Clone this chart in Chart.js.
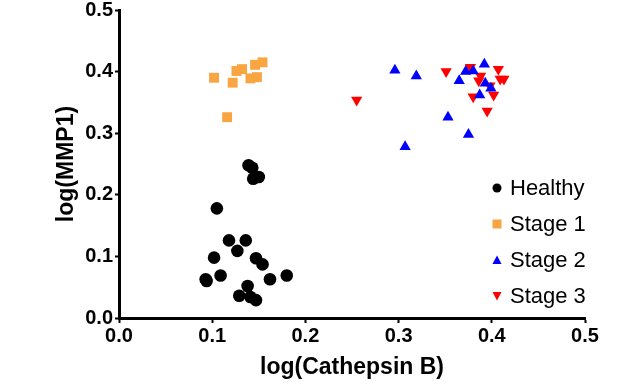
<!DOCTYPE html>
<html><head><meta charset="utf-8">
<script src="https://cdn.jsdelivr.net/npm/chart.js@4/dist/chart.umd.min.js"></script>
<style>html,body{margin:0;padding:0;background:#fff}</style>
</head><body>
<canvas id="c" width="640" height="384"></canvas>
<script>
const seriesNames = ['Healthy', 'Stage 1', 'Stage 2', 'Stage 3'];
const xTicks = [0.0, 0.1, 0.2, 0.3, 0.4, 0.5];
const yTicks = [0.0, 0.1, 0.2, 0.3, 0.4, 0.5];

const healthyX = [0.139, 0.143, 0.150, 0.144, 0.105, 0.118, 0.136, 0.127, 0.102, 0.147, 0.154, 0.093, 0.094, 0.109, 0.162, 0.180, 0.138, 0.129, 0.141, 0.147];
const healthyY = [0.248, 0.244, 0.229, 0.226, 0.178, 0.126, 0.126, 0.109, 0.098, 0.097, 0.087, 0.063, 0.060, 0.069, 0.063, 0.069, 0.052, 0.036, 0.034, 0.029];

const stage1X = [0.102, 0.122, 0.126, 0.132, 0.146, 0.154, 0.141, 0.148, 0.116];
const stage1Y = [0.390, 0.382, 0.401, 0.404, 0.411, 0.415, 0.389, 0.391, 0.326];

const stage2X = [0.296, 0.319, 0.372, 0.380, 0.392, 0.365, 0.393, 0.399, 0.387, 0.353, 0.375, 0.307];
const stage2Y = [0.402, 0.393, 0.400, 0.401, 0.412, 0.385, 0.381, 0.373, 0.362, 0.326, 0.298, 0.278];

const stage3X = [0.255, 0.351, 0.377, 0.388, 0.386, 0.407, 0.409, 0.413, 0.398, 0.402, 0.380, 0.395];
const stage3Y = [0.354, 0.400, 0.407, 0.393, 0.385, 0.404, 0.388, 0.388, 0.377, 0.362, 0.359, 0.336];

const colors = ['#000000', '#F9A541', '#0000FF', '#FF0000'];
const styles = ['circle', 'rect', 'triangle', 'triangle'];
const rotations = [0, 0, 0, 180];
const radii = [6.3, 7, 6.5, 6.5];

function pts(xs, ys) { return xs.map((x, i) => ({x: x, y: ys[i]})); }
const allX = [healthyX, stage1X, stage2X, stage3X];
const allY = [healthyY, stage1Y, stage2Y, stage3Y];

const datasets = seriesNames.map((name, i) => ({
  label: name,
  data: pts(allX[i], allY[i]),
  backgroundColor: colors[i],
  borderColor: colors[i],
  borderWidth: 0,
  pointStyle: styles[i],
  pointRotation: rotations[i],
  pointRadius: radii[i],
  pointHoverRadius: radii[i]
}));

const legendPlugin = {
  id: 'insideLegend',
  afterDraw(chart) {
    const ctx = chart.ctx;
    ctx.save();
    ctx.font = '22px "Liberation Sans", Arial, sans-serif';
    ctx.textBaseline = 'middle';
    ctx.textAlign = 'left';
    const x0 = 497, tx = 510, y0 = 188, dy = 36;
    chart.data.datasets.forEach((ds, i) => {
      const y = y0 + i * dy;
      ctx.fillStyle = ds.backgroundColor;
      ctx.beginPath();
      if (ds.pointStyle === 'circle') {
        ctx.arc(x0, y, 4.5, 0, Math.PI * 2);
      } else if (ds.pointStyle === 'rect') {
        ctx.rect(x0 - 4.5, y - 4.5, 9, 9);
      } else if (ds.pointRotation === 180) {
        ctx.moveTo(x0 - 4.5, y - 4); ctx.lineTo(x0 + 4.5, y - 4); ctx.lineTo(x0, y + 4.5);
      } else {
        ctx.moveTo(x0 - 4.5, y + 4); ctx.lineTo(x0 + 4.5, y + 4); ctx.lineTo(x0, y - 4.5);
      }
      ctx.closePath();
      ctx.fill();
      ctx.fillStyle = '#000';
      ctx.fillText(ds.label, tx, y + 1);
    });
    ctx.restore();
  }
};

const tickFont = {family: '"Liberation Sans", Arial, sans-serif', size: 20, weight: 'bold'};
const titleFont = {family: '"Liberation Sans", Arial, sans-serif', size: 23, weight: 'bold'};

new Chart(document.getElementById('c'), {
  type: 'scatter',
  data: {datasets: datasets},
  options: {
    responsive: false,
    animation: false,
    devicePixelRatio: 1,
    layout: {padding: {left: 0, right: 55, top: 10, bottom: 0}},
    plugins: {legend: {display: false}, tooltip: {enabled: false}},
    scales: {
      x: {
        type: 'linear', min: 0, max: 0.5,
        afterBuildTicks(s) { s.ticks = xTicks.map(v => ({value: v})); },
        afterFit(s) { s.height = 66; s.paddingLeft = 0; s.paddingRight = 0; },
        border: {display: true, color: '#000', width: 3},
        grid: {display: true, drawOnChartArea: false, drawTicks: true, tickLength: 5, tickWidth: 2, tickColor: '#000'},
        ticks: {color: '#000', font: tickFont, padding: 1, maxRotation: 0, callback: v => Number(v).toFixed(1)},
        title: {display: true, text: 'log(Cathepsin B)', color: '#000', font: titleFont, padding: {top: 0, bottom: 3}}
      },
      y: {
        type: 'linear', min: 0, max: 0.5,
        afterBuildTicks(s) { s.ticks = yTicks.map(v => ({value: v})); },
        afterFit(s) { s.width = 119; s.paddingTop = 0; s.paddingBottom = 0; },
        border: {display: true, color: '#000', width: 3},
        grid: {display: true, drawOnChartArea: false, drawTicks: true, tickLength: 4, tickWidth: 2, tickColor: '#000'},
        ticks: {color: '#000', font: tickFont, padding: 2, callback: v => Number(v).toFixed(1)},
        title: {display: true, text: 'log(MMP1)', color: '#000', font: titleFont, padding: {top: 53, bottom: 0}}
      }
    }
  },
  plugins: [legendPlugin]
});
</script>
</body></html>
